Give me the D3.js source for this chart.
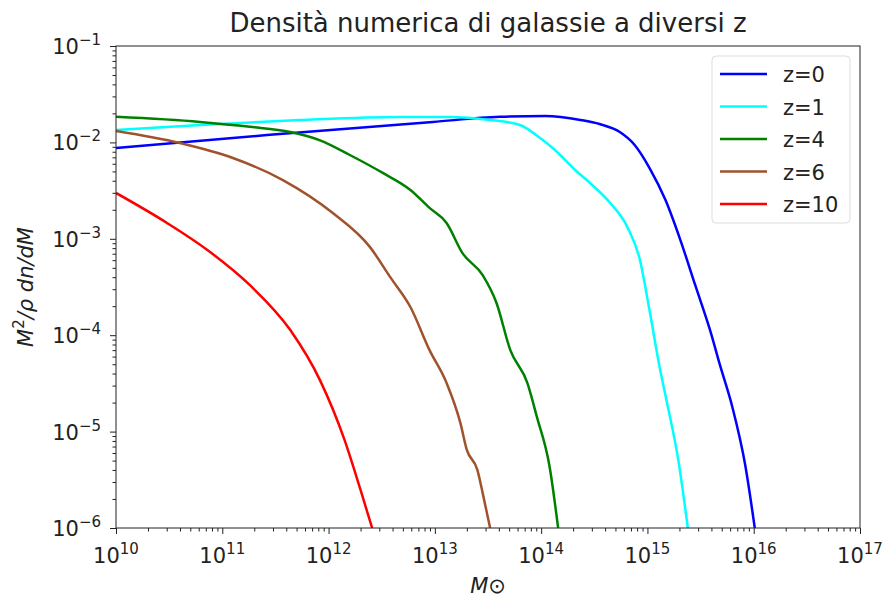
<!DOCTYPE html>
<html>
<head>
<meta charset="utf-8">
<script src="https://cdn.jsdelivr.net/npm/d3@7"></script>
<style>
  body { margin: 0; background: #fff; }
  text { font-family: "DejaVu Sans", sans-serif; fill: #222; }
  .axis path, .axis line { stroke: #222; }
</style>
</head>
<body>
<div id="graphic"></div>
<script>
// series: [log10(M), M^2/rho dn/dM]
var z0 = [[10,0.00875],[11.42,0.0119],[12.98,0.0163],[13.61,0.0184],[14.04,0.0188],[14.37,0.0171],
  [14.55,0.0155],[14.74,0.0128],[14.88,0.0094],[15.02,0.00542],[15.17,0.00252],[15.31,9.7e-4],
  [15.45,3.3e-4],[15.59,1.12e-4],[15.68,5.0e-5],[15.8,1.78e-5],[15.92,4.5e-6],[16.01,1e-6]];
var z1 = [[10,0.01346],[10.79,0.01515],[11.73,0.01706],[12.67,0.01836],[13.14,0.01836],[13.52,0.01706],
  [13.8,0.01515],[13.99,0.0111],[14.13,0.00834],[14.32,0.00517],[14.46,0.00379],[14.65,0.00235],
  [14.81,0.00133],[14.93,6.0e-4],[15.02,1.8e-4],[15.12,4.35e-5],[15.18,2.1e-5],[15.29,5.1e-6],[15.38,1e-6]];
var z4 = [[10,0.0184],[10.79,0.0163],[11.26,0.0145],[11.64,0.0128],[11.92,0.0105],[12.2,0.0074],
  [12.51,0.00482],[12.77,0.00321],[12.95,0.00209],[13.11,0.00146],[13.26,7.1e-4],[13.45,4.2e-4],
  [13.58,2.16e-4],[13.71,7.0e-5],[13.87,3.2e-5],[13.96,1.42e-5],[14.08,4.3e-6],[14.16,1e-6]];
var z6 = [[10,0.01313],[10.6,0.00986],[11.1,0.00689],[11.57,0.00407],[12.04,0.00185],[12.39,8.2e-4],
  [12.58,4.0e-4],[12.77,1.96e-4],[12.95,7.0e-5],[13.11,3.2e-5],[13.24,1.23e-5],[13.3,6.5e-6],
  [13.4,4.0e-6],[13.45,2.3e-6],[13.52,1.0e-6]];
var z10 = [[10,0.00299],[10.48,0.00146],[10.86,7.65e-4],[11.26,3.3e-4],[11.64,1.13e-4],
  [11.92,3.4e-5],[12.15,8.2e-6],[12.3,2.5e-6],[12.41,1e-6]];

var seriesNames = ["z=0", "z=1", "z=4", "z=6", "z=10"];
var seriesColors = ["#0000ff", "#00ffff", "#008000", "#a0522d", "#ff0000"];
var seriesData = [z0, z1, z4, z6, z10];

var xTickExp = [10, 11, 12, 13, 14, 15, 16, 17];
var yTickExp = [-1, -2, -3, -4, -5, -6];

var margin = {top: 46, right: 26, bottom: 71, left: 116};
var width = 886 - margin.left - margin.right,
    height = 599 - margin.top - margin.bottom;

var root = d3.select("#graphic").append("svg")
    .attr("width", 886)
    .attr("height", 599);

var svg = root.append("g")
    .attr("transform", "translate(" + margin.left + "," + margin.top + ")");

var xScale = d3.scaleLog().domain([1e10, 1e17]).range([0, width]);
var yScale = d3.scaleLog().domain([1e-6, 1e-1]).range([height, 0]);

// minor ticks
var xMinor = [], yMinor = [];
xTickExp.slice(0, -1).forEach(e => d3.range(2, 10).forEach(k => xMinor.push(k * Math.pow(10, e))));
yTickExp.slice(1).forEach(e => d3.range(2, 10).forEach(k => yMinor.push(k * Math.pow(10, e))));

svg.append("g").attr("class", "axis")
    .attr("transform", "translate(0," + height + ")")
    .call(d3.axisBottom(xScale).tickValues(xMinor).tickSize(3.5).tickFormat(""))
    .call(g => g.select(".domain").remove());
svg.append("g").attr("class", "axis")
    .call(d3.axisLeft(yScale).tickValues(yMinor).tickSize(3.5).tickFormat(""))
    .call(g => g.select(".domain").remove());

svg.append("g").attr("class", "axis x")
    .attr("transform", "translate(0," + height + ")")
    .call(d3.axisBottom(xScale).tickValues(xTickExp.map(e => Math.pow(10, e))).tickSize(6).tickFormat(""))
    .call(g => g.select(".domain").remove());
svg.append("g").attr("class", "axis y")
    .call(d3.axisLeft(yScale).tickValues(yTickExp.map(e => Math.pow(10, e))).tickSize(6).tickFormat(""))
    .call(g => g.select(".domain").remove());

// tick labels with superscripts
xTickExp.forEach(function (e) {
  var t = svg.append("text")
      .attr("x", xScale(Math.pow(10, e)))
      .attr("y", height + 35)
      .attr("text-anchor", "middle")
      .style("font-size", "21px");
  t.append("tspan").text("10");
  t.append("tspan").attr("dy", -9).style("font-size", "15px").text(e);
});
yTickExp.forEach(function (e) {
  var t = svg.append("text")
      .attr("x", -15)
      .attr("y", yScale(Math.pow(10, e)) + 8)
      .attr("text-anchor", "end")
      .style("font-size", "21px");
  t.append("tspan").text("10");
  t.append("tspan").attr("dy", -9).style("font-size", "15px").text("\u2212" + (-e));
});

svg.append("clipPath").attr("id", "clip")
  .append("rect").attr("width", width).attr("height", height);

var line = d3.line()
    .x(d => xScale(Math.pow(10, d[0])))
    .y(d => yScale(d[1]))
    .curve(d3.curveMonotoneX);

svg.append("g").attr("clip-path", "url(#clip)")
  .selectAll("path")
  .data(seriesData)
  .enter()
  .append("path")
    .attr("d", line)
    .attr("fill", "none")
    .attr("stroke", (d, i) => seriesColors[i])
    .attr("stroke-width", 2.5);

// frame
svg.append("rect")
    .attr("width", width).attr("height", height)
    .attr("fill", "none").attr("stroke", "#222").attr("stroke-width", 1);

// legend
var legend = svg.append("g").attr("transform", "translate(" + (width - 148) + ",10)");
legend.append("rect")
    .attr("width", 138).attr("height", 167).attr("rx", 4)
    .attr("fill", "#fff").attr("fill-opacity", 0.8)
    .attr("stroke", "#ddd");
seriesNames.forEach(function (name, i) {
  var y = 18 + i * 32.5;
  legend.append("line")
      .attr("x1", 8).attr("x2", 55).attr("y1", y).attr("y2", y)
      .attr("stroke", seriesColors[i]).attr("stroke-width", 2.5);
  legend.append("text")
      .attr("x", 71).attr("y", y + 8)
      .style("font-size", "21px")
      .text(name);
});

// titles
root.append("text")
    .attr("x", margin.left + width / 2).attr("y", 32)
    .attr("text-anchor", "middle")
    .style("font-size", "26px")
    .text("Densità numerica di galassie a diversi z");

root.append("text")
    .attr("x", margin.left + width / 2).attr("y", 593)
    .attr("text-anchor", "middle")
    .style("font-size", "21px").style("font-style", "italic")
    .text("M\u2299");

var yl = root.append("text")
    .attr("transform", "translate(33," + (margin.top + height / 2) + ") rotate(-90)")
    .attr("text-anchor", "middle")
    .style("font-size", "21px").style("font-style", "italic");
yl.append("tspan").text("M");
yl.append("tspan").attr("dy", -9).style("font-size", "15px").style("font-style", "normal").text("2");
yl.append("tspan").attr("dy", 9).text("/\u03c1 dn/dM");
</script>
</body>
</html>
